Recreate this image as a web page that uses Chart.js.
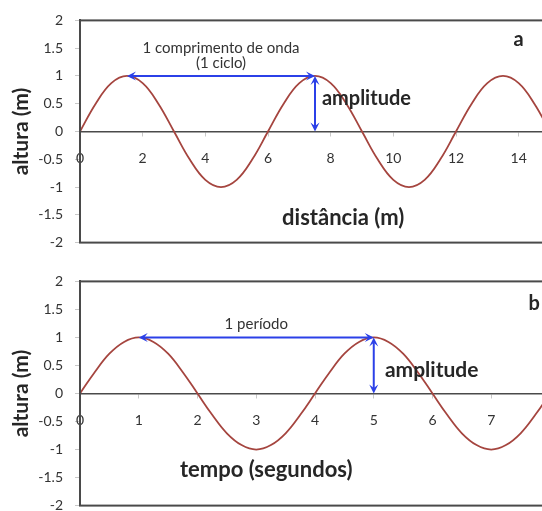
<!DOCTYPE html>
<html>
<head>
<meta charset="utf-8">
<script src="https://cdn.jsdelivr.net/npm/chart.js@4.4.1/dist/chart.umd.min.js"></script>
<style>
  html, body { margin:0; padding:0; background:#fff; overflow:hidden; width:542px; height:511px; }
  .box { position:absolute; left:0; width:560px; }
  #boxA { top:0; height:263px; }
  #boxB { top:261px; height:265px; }
</style>
</head>
<body>
<div class="box" id="boxA"><canvas id="chartA"></canvas></div>
<div class="box" id="boxB"><canvas id="chartB"></canvas></div>
<script>
// ------------------------- Data -------------------------
// a) wave vs distance (m)
const distanceX = [0,0.5,1,1.5,2,2.5,3,3.5,4,4.5,5,5.5,6,6.5,7,7.5,8,8.5,9,9.5,10,10.5,11,11.5,12,12.5,13,13.5,14,14.5,15];
const heightA   = [0,0.5,0.87,1,0.87,0.5,0,-0.5,-0.87,-1,-0.87,-0.5,0,0.5,0.87,1,0.87,0.5,0,-0.5,-0.87,-1,-0.87,-0.5,0,0.5,0.87,1,0.87,0.5,0];
const distanceTicks = [0,2,4,6,8,10,12,14];

// b) wave vs time (s)
const timeX   = [0,0.25,0.5,0.75,1,1.25,1.5,1.75,2,2.25,2.5,2.75,3,3.25,3.5,3.75,4,4.25,4.5,4.75,5,5.25,5.5,5.75,6,6.25,6.5,6.75,7,7.25,7.5,7.75,8];
const heightB = [0,0.38,0.71,0.92,1,0.92,0.71,0.38,0,-0.38,-0.71,-0.92,-1,-0.92,-0.71,-0.38,0,0.38,0.71,0.92,1,0.92,0.71,0.38,0,-0.38,-0.71,-0.92,-1,-0.92,-0.71,-0.38,0];
const timeTicks = [0,1,2,3,4,5,6,7];

const heightTicks = [-2,-1.5,-1,-0.5,0,0.5,1,1.5,2];

// annotations, in data units
const notesA = [
  { text:'1 comprimento de onda', x:4.5, y:1.5, font:'15px Lato', color:'#333' },
  { text:'(1 ciclo)', x:4.5, y:1.23, font:'15px Lato', color:'#333' },
  { text:'amplitude', x:7.72, y:0.6, font:'bold 20px Lato', color:'#262626', align:'left' },
  { text:'distância (m)', x:8.4, y:-1.55, font:'bold 22px Lato', color:'#262626' },
  { text:'a', x:14, y:1.66, font:'bold 20px Lato', color:'#262626' }
];
const arrowsA = [ { from:[1.5,1], to:[7.5,1] }, { from:[7.5,1], to:[7.5,0] } ];

const notesB = [
  { text:'1 período', x:3, y:1.24, font:'15px Lato', color:'#333' },
  { text:'amplitude', x:5.19, y:0.41, font:'bold 21px Lato', color:'#262626', align:'left' },
  { text:'tempo (segundos)', x:3.17, y:-1.37, font:'bold 22px Lato', color:'#262626' },
  { text:'b', x:7.73, y:1.6, font:'bold 20px Lato', color:'#262626' }
];
const arrowsB = [ { from:[1,1], to:[5,1] }, { from:[5,1], to:[5,0] } ];

// ------------------------- Drawing helpers -------------------------
function arrowHead(ctx, tx, ty, ang){
  const L = 9, W = 4.5;
  ctx.beginPath();
  ctx.moveTo(tx, ty);
  ctx.lineTo(tx - L*Math.cos(ang) + W*Math.sin(ang), ty - L*Math.sin(ang) - W*Math.cos(ang));
  ctx.lineTo(tx - 0.6*L*Math.cos(ang), ty - 0.6*L*Math.sin(ang));
  ctx.lineTo(tx - L*Math.cos(ang) - W*Math.sin(ang), ty - L*Math.sin(ang) + W*Math.cos(ang));
  ctx.closePath();
  ctx.fill();
}

const frameAndNotes = {
  id: 'frameAndNotes',
  afterDatasetsDraw(chart, args, opts){
    const { ctx, scales:{ x, y } } = chart;
    ctx.save();
    ctx.strokeStyle = '#2b40e8';
    ctx.fillStyle = '#2b40e8';
    ctx.lineWidth = 2;
    (opts.arrows || []).forEach(a => {
      const x1 = x.getPixelForValue(a.from[0]), y1 = y.getPixelForValue(a.from[1]);
      const x2 = x.getPixelForValue(a.to[0]), y2 = y.getPixelForValue(a.to[1]);
      const ang = Math.atan2(y2 - y1, x2 - x1);
      ctx.beginPath();
      ctx.moveTo(x1 + 5*Math.cos(ang), y1 + 5*Math.sin(ang));
      ctx.lineTo(x2 - 5*Math.cos(ang), y2 - 5*Math.sin(ang));
      ctx.stroke();
      arrowHead(ctx, x2, y2, ang);
      arrowHead(ctx, x1, y1, ang + Math.PI);
    });
    ctx.textBaseline = 'middle';
    (opts.notes || []).forEach(n => {
      ctx.font = n.font;
      ctx.fillStyle = n.color;
      ctx.textAlign = n.align || 'center';
      ctx.fillText(n.text, x.getPixelForValue(n.x), y.getPixelForValue(n.y));
    });
    ctx.restore();
  },
  afterDraw(chart){
    const { ctx, chartArea:a } = chart;
    ctx.save();
    ctx.strokeStyle = '#4a4a4a';
    ctx.lineWidth = 2;
    ctx.strokeRect(a.left, a.top, a.right - a.left, a.bottom - a.top);
    ctx.restore();
  }
};

function makeChart(id, xs, ys, xMax, xTicks, notes, arrows){
  return new Chart(document.getElementById(id), {
    type: 'scatter',
    data: {
      datasets: [{
        data: xs.map((v, i) => ({ x:v, y:ys[i] })),
        showLine: true,
        borderColor: '#a5453f',
        borderWidth: 1.8,
        pointRadius: 0,
        tension: 0.4,
        fill: false
      }]
    },
    options: {
      responsive: true,
      maintainAspectRatio: false,
      animation: false,
      layout: { padding: { left:0, top:19, right:10, bottom:6 } },
      plugins: {
        legend: { display:false },
        tooltip: { enabled:false },
        frameAndNotes: { notes, arrows }
      },
      scales: {
        x: {
          type: 'linear', min: 0, max: xMax,
          position: { y: 0 },
          afterBuildTicks: s => { s.ticks = xTicks.map(v => ({ value:v })); },
          grid: { drawOnChartArea:false, drawTicks:true, tickLength:4, color:'#c8c8c8' },
          border: { color:'#4a4a4a', width:1.5 },
          ticks: { padding:15, maxRotation:0, font:{ family:'Lato', size:14 }, color:'#333' }
        },
        y: {
          min: -2, max: 2,
          afterBuildTicks: s => { s.ticks = heightTicks.map(v => ({ value:v })); },
          afterFit: s => { s.width = 80; },
          grid: { drawOnChartArea:false, drawTicks:true, tickLength:5, color:'#c8c8c8' },
          border: { color:'#4a4a4a', width:2 },
          ticks: { padding:12, font:{ family:'Lato', size:14 }, color:'#333', callback: v => String(v) },
          title: { display:true, text:'altura (m)', color:'#262626',
                   font:{ family:'Lato', size:21, weight:'bold' }, padding:{ top:9, bottom:0 } }
        }
      }
    },
    plugins: [frameAndNotes]
  });
}

makeChart('chartA', distanceX, heightA, 15, distanceTicks, notesA, arrowsA);
makeChart('chartB', timeX, heightB, 8, timeTicks, notesB, arrowsB);
</script>
</body>
</html>
